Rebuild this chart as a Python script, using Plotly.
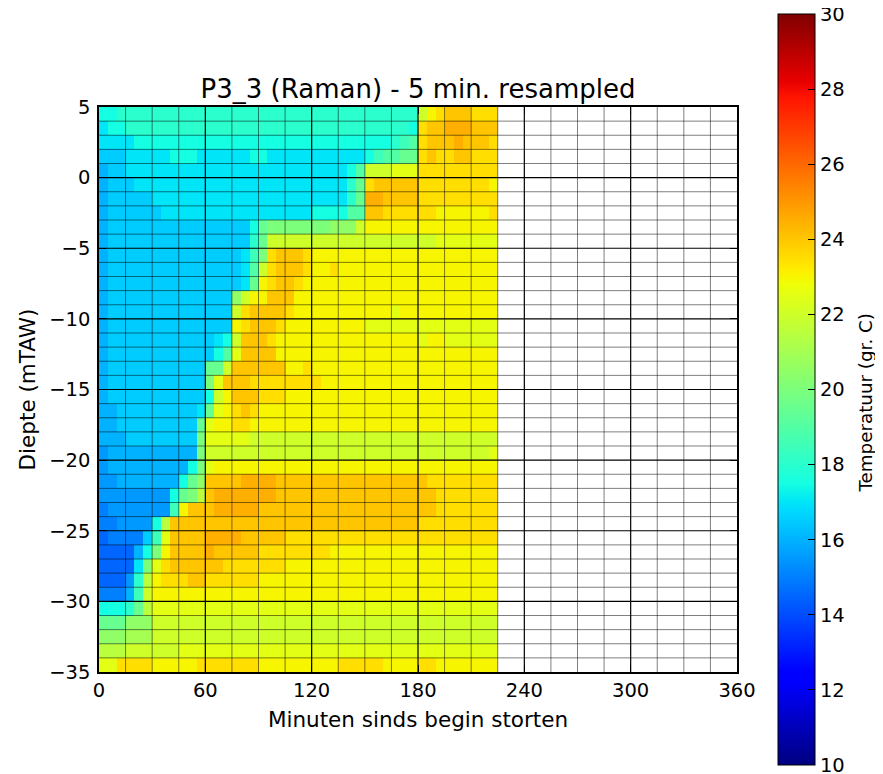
import plotly.graph_objects as go

TITLE = "P3_3 (Raman) - 5 min. resampled"
X_LABEL = "Minuten sinds begin storten"
Y_LABEL = "Diepte (mTAW)"
CB_LABEL = "Temperatuur (gr. C)"

# cell edges: time (minutes, 5 min resampled) and depth (mTAW)
TIME_EDGES = [0, 5, 10, 15, 20, 25, 30, 35, 40, 45, 50, 55, 60, 65, 70, 75, 80, 85, 90,
              95, 100, 105, 110, 115, 120, 125, 130, 135, 140, 145, 150, 155, 160, 165,
              170, 175, 180, 185, 190, 195, 200, 205, 210, 215, 220, 225]
DEPTH_EDGES = [-35, -34, -33, -32, -31, -30, -29, -28, -27, -26, -25, -24, -23, -22, -21,
               -20, -19, -18, -17, -16, -15, -14, -13, -12, -11, -10, -9, -8, -7, -6, -5,
               -4, -3, -2, -1, 0, 1, 2, 3, 4, 5]

X_TICKS = [0, 60, 120, 180, 240, 300, 360]
Y_TICKS = [-35, -30, -25, -20, -15, -10, -5, 0, 5]
CB_TICKS = [10, 12, 14, 16, 18, 20, 22, 24, 26, 28, 30]
T_MIN, T_MAX = 10, 30
X_MINOR_STEP = 15
Y_MINOR_STEP = 1

# Temperatures, one row per metre (top row = 5..4 mTAW),
# one letter per 5-minute column: 'a' = 14.0 C, each next letter +0.5 C.
TEMP_ROWS = [
    "hhi iii iii iii iii iii iii iii iii iii iii iii qst uuu ttt",
    "ghh iii iii iii iii iii iii iii iii iii iii iih tuu vvv uuu",
    "ggg ghh hhh hhh hhh hhh hhh hhh hhh hhh hhh ijk tuu uvu uut",
    "fff ggg ggh hhg ggg ggh hgg ggg ggg ggg hjk kll tut tuu ttt",
    "eff ggg ggg ggg ggg ggg ggg ggg ggg ghk qqq rrr ttt ttt ttt",
    "eff fgg ggg ggg ggg ggg ggg ggg ggg gil tuu uuu ttt ttt tts",
    "eff fff ggg ggg ggg ggg ggg ggg ggg gil vvu uuu ttt ttt ttt",
    "eff fff fgg ggg ggg ggg ggg ggg hhh hkk uut ttt tts sss sst",
    "eff fff fff fff fff ffh lmm mmm mmn nnq sss sss sss sss sss",
    "eff fff fff fff fff ffi lqq qqq qqq qqq qqq qqq qqr rrr rrr",
    "eff fff fff fff fff fgj mtu uut sss sss sss sss sss sss sss",
    "eff fff fff fff fff fgk qtu uut sst sss sss sss sss sss sss",
    "eff fff fff fff fff fgl stu uts sss sss sss sss sss sss sss",
    "eff fff fff fff fff nqs suu uss sss sss sss sss sss sss sss",
    "eff fff fff fff fff qtu uuu tss sss sss sss rss sss sss sss",
    "eff fff fff fff fff stu uut sss sss sss rrr rrr rrr rrr rrr",
    "eff fff fff fff fgh quu uts sss sss sss sss sss rss rrr rrr",
    "eff fff fff fff fhk ruu uus sss sss sss sss sss sss sss sss",
    "eff fff fff fff llq uuu uuu sst sss sss sss sss sss sss sss",
    "eff fff fff fff mru uut ttt ttt tss sss sss sss sss sss sss",
    "eff fff fff fff hqs uuu ttt sss sss sss sss sss sss sss sss",
    "eef fff fff ffg lrs tut sss sss sss sss sss sss sss sss sss",
    "eef fff fff ffl rss tts sss sss sss sss sss sss sss sss sss",
    "eee fff fff ffm rrr rrq qqq qqq qqq qqq qqq qqq qqq qqq qqq",
    "dee eee eee eem qqq qqq qqq qqq qqq qqq qqq qqq qqq qqq qqr",
    "dee eee eee ehm rss sss sss sss sss sss sss sss sss sss sss",
    "dde eee eee hln uuu uvv vvu uuu uuu uuu uuu uuu utt ttt ttt",
    "ddd ddd ddh lmp uvv vvv vvu uuu uuu uuu uuu uuu uut ttt ttt",
    "cdd ddd ddj suu uvv vvv uuu uuu uuu uuu uuu uuu uut ttt ttt",
    "ccd ddd hpu uuu uuu uuu uuu uuu uuu uuu uuu uuu ttt ttt ttt",
    "bcc ccf jru uuu vvv vuu uuu ttt ttt ttt ttt ttt ttt ttt ttt",
    "bbb beh msu uuu vuu uuu ttt ttt tts sss sss sss sss sss sss",
    "bbb bgm rtu uuu uut ttt ttt sss sss sss sss sss sss sss sss",
    "bbb dip stt tuu ttt ttt sss sss sss sss sss sss sss sss sss",
    "ccc ejq sss sss sss sss sss sss sss sss sss sss sss sss sss",
    "hhh ilp rrr rrr rrr rrr rrr rrr rrr rrr rrr rrr rrr rrr rrr",
    "lll nnn qqq qqq qqq qqq qqq qqq qqq qqq qqq qqq qqq qqq qqq",
    "nnn ooo qqq qqq qqq qqq qqq qqq qqq qqq qqq qqq qqq qqq qqq",
    "ppp qqq qqq rrr rrr rrr rrr rrr rrr rrr rrr rrr rrr rrr rrr",
    "rrt ttt sss sst ttt ttt sss sss sss ttt tts sss tts sss sss",
]
CODE_BASE_T = 14.0
CODE_STEP_T = 0.5

ncols = len(TIME_EDGES) - 1


def decode(row, idx):
    s = row.replace(" ", "")
    if len(s) != ncols:
        raise ValueError(f"row {idx} has {len(s)} cells")
    return [CODE_BASE_T + CODE_STEP_T * (ord(c) - ord("a")) for c in s]


z_top_down = [decode(r, i) for i, r in enumerate(TEMP_ROWS)]
z = z_top_down[::-1]  # ascending depth to match DEPTH_EDGES

# matplotlib 'jet' colormap segment data
JET_R = [(0.0, 0.0), (0.35, 0.0), (0.66, 1.0), (0.89, 1.0), (1.0, 0.5)]
JET_G = [(0.0, 0.0), (0.125, 0.0), (0.375, 1.0), (0.64, 1.0), (0.91, 0.0), (1.0, 0.0)]
JET_B = [(0.0, 0.5), (0.11, 1.0), (0.34, 1.0), (0.65, 0.0), (1.0, 0.0)]


def seg(pts, t):
    for (x0, y0), (x1, y1) in zip(pts[:-1], pts[1:]):
        if x0 <= t <= x1:
            return y0 + (y1 - y0) * (t - x0) / (x1 - x0) if x1 > x0 else y1
    return pts[-1][1]


stops = sorted(set(p for p, _ in JET_R + JET_G + JET_B))
jet = [[t, "rgb({:.0f},{:.0f},{:.0f})".format(255 * seg(JET_R, t), 255 * seg(JET_G, t),
                                              255 * seg(JET_B, t))] for t in stops]

FONT = "DejaVu Sans"

# page body has an 8 px margin; the figure is sized/placed to compensate
PAGE_OFF = 8
FIG_W, FIG_H = 883 - PAGE_OFF, 774 - PAGE_OFF
PLOT_L, PLOT_T, PLOT_W, PLOT_H = 99 - PAGE_OFF, 107 - PAGE_OFF, 638, 565

fig = go.Figure()
fig.add_trace(go.Heatmap(
    z=z, x=TIME_EDGES, y=DEPTH_EDGES, zmin=T_MIN, zmax=T_MAX, colorscale=jet,
    zsmooth=False,
    colorbar=dict(
        x=(778 - 99) / PLOT_W, xanchor="left", y=0.5, yanchor="middle",
        len=751, lenmode="pixels", thickness=37, thicknessmode="pixels",
        xpad=0, ypad=0, outlinewidth=1, outlinecolor="black",
        tickvals=CB_TICKS, ticks="inside", ticklen=7, tickcolor="black",
        ticklabeloverflow="allow",
        tickfont=dict(size=19.5, family=FONT, color="black"),
    ),
))

shapes = []
x_lo, x_hi = X_TICKS[0], X_TICKS[-1]
y_lo, y_hi = Y_TICKS[0], Y_TICKS[-1]
xv = x_lo + X_MINOR_STEP
while xv < x_hi:
    major = xv in X_TICKS
    shapes.append(dict(type="line", xref="x", yref="paper", x0=xv, x1=xv, y0=0, y1=1,
                       layer="above",
                       line=dict(color="black" if major else "rgba(0,0,0,0.5)",
                                 width=1.2 if major else 1)))
    xv += X_MINOR_STEP
yv = y_lo + Y_MINOR_STEP
while yv < y_hi:
    major = yv in Y_TICKS
    shapes.append(dict(type="line", xref="paper", yref="y", x0=0, x1=1, y0=yv, y1=yv,
                       layer="above",
                       line=dict(color="black" if major else "rgba(0,0,0,0.5)",
                                 width=1.2 if major else 1)))
    yv += Y_MINOR_STEP

axis_common = dict(showgrid=False, zeroline=False, showline=True, linecolor="black",
                   linewidth=1.5, mirror="allticks", ticks="inside", ticklen=7,
                   tickcolor="black", tickfont=dict(size=19.5, family=FONT, color="black"),
                   layer="above traces")

fig.update_layout(
    width=FIG_W, height=FIG_H,
    margin=dict(l=PLOT_L, r=FIG_W - PLOT_L - PLOT_W, t=PLOT_T, b=FIG_H - PLOT_T - PLOT_H,
                autoexpand=False),
    plot_bgcolor="white", paper_bgcolor="white",
    font=dict(family=FONT, size=19, color="black"),
    title=dict(text=TITLE, x=0.5, xref="paper", xanchor="center",
               y=1 - (89 - PAGE_OFF) / FIG_H, yref="container", yanchor="middle",
               font=dict(size=26, family=FONT, color="black")),
    xaxis=dict(range=[x_lo, x_hi], tickvals=X_TICKS,
               title=dict(text=X_LABEL, standoff=11, font=dict(size=21.5, family=FONT)),
               **axis_common),
    yaxis=dict(range=[y_lo, y_hi], tickvals=Y_TICKS, ticklabelstandoff=3,
               title=dict(text=Y_LABEL, standoff=8, font=dict(size=21.5, family=FONT)),
               **axis_common),
    shapes=shapes,
    annotations=[dict(text=CB_LABEL, xref="paper", yref="paper",
                      x=(865 - 99) / PLOT_W, y=(672 - 403.5) / PLOT_H,
                      xanchor="center", yanchor="middle", textangle=-90, showarrow=False,
                      font=dict(size=18.3, family=FONT, color="black"))],
)

fig.write_html("out.html")
